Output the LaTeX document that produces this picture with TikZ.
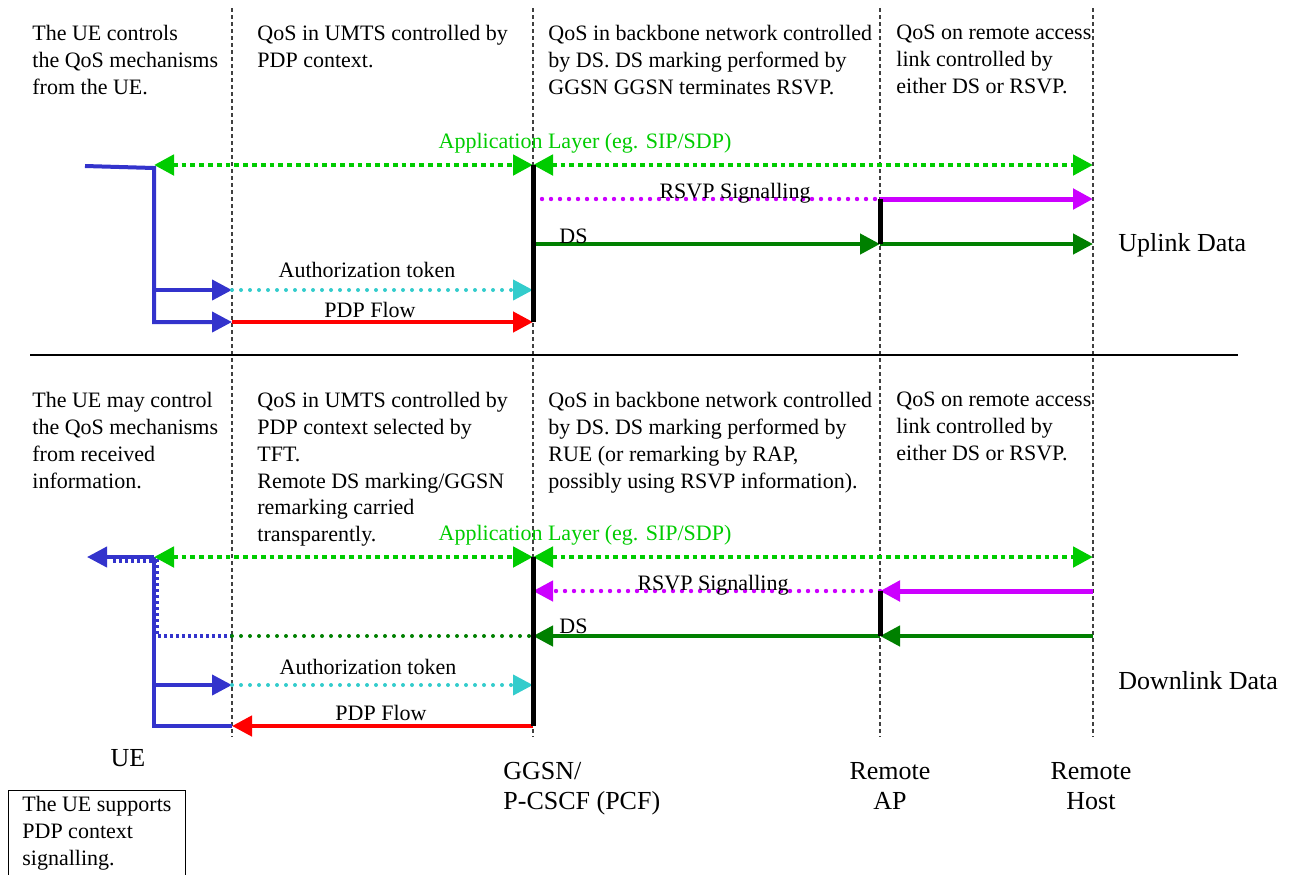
\documentclass[tikz,border=0pt]{standalone}
\usepackage{fontspec}
\setmainfont{Liberation Serif}
\usetikzlibrary{arrows.meta}

\definecolor{appgreen}{RGB}{0,204,0}
\definecolor{rsvpmag}{RGB}{204,0,255}
\definecolor{dsgreen}{RGB}{0,128,0}
\definecolor{authcyan}{RGB}{51,204,204}
\definecolor{ueblue}{RGB}{51,51,204}

\begin{document}
\begin{tikzpicture}[x=0.5pt, y=-0.5pt, >={Triangle[length=10pt,width=10pt]},
    every node/.style={font=\fontsize{11}{13.4}\selectfont, inner sep=0pt},
    note/.style={anchor=north west, align=left},
    big/.style={font=\fontsize{13}{15}\selectfont},
    life/.style={black!75, line width=0.6pt, dash pattern=on 2pt off 1.5pt},
    bar/.style={line width=2.5pt},
    appl/.style={<->, appgreen, line width=2.4pt, dash pattern=on 2.4pt off 2pt},
    rsvp/.style={->, rsvpmag, line width=2.5pt},
    rsvpdot/.style={rsvpmag, line width=2.2pt, line cap=round, dash pattern=on 0pt off 4.5pt},
    ds/.style={->, dsgreen, line width=2.2pt},
    dsdot/.style={dsgreen, line width=2pt, line cap=round, dash pattern=on 0pt off 4.5pt},
    auth/.style={->, authcyan, line width=2pt, line cap=round, dash pattern=on 0pt off 4.5pt},
    pdpflow/.style={->, red, line width=2.2pt},
    ueline/.style={ueblue, line width=2pt},
    uedot/.style={ueblue, line width=2pt, dash pattern=on 1.5pt off 1.5pt}]
    \useasboundingbox (0,0) rectangle (1290,874);

    % lifelines and rows
    \coordinate (ue) at (154,0);
    \coordinate (pdp) at (232,0);
    \coordinate (gg) at (533,0);
    \coordinate (ap) at (880,0);
    \coordinate (rh) at (1093,0);
    \coordinate (top) at (0,8);
    \coordinate (bot) at (0,737);
    \coordinate (uapp) at (0,165);
    \coordinate (ursvp) at (0,199);
    \coordinate (uds) at (0,244);
    \coordinate (uauth) at (0,290);
    \coordinate (upfl) at (0,322);
    \coordinate (dapp) at (0,557);
    \coordinate (drsvp) at (0,591);
    \coordinate (dds) at (0,636);
    \coordinate (dauth) at (0,685);
    \coordinate (dpfl) at (0,726);

    \foreach \l in {pdp,gg,ap,rh}
        \draw[life] (\l |- top) -- (\l |- bot);

    % uplink
    \coordinate (ustub) at (85,166);
    \coordinate (ubend) at (154,168);
    \draw[ueline,->] (ustub) -- (ubend) -- (ue |- upfl) -- (pdp |- upfl);
    \path (ue |- uauth) edge[ueline,->] (pdp |- uauth)
          (ue |- uapp) edge[appl] (gg |- uapp)
          (gg |- uapp) edge[appl] (rh |- uapp)
          (gg |- ursvp) edge[rsvpdot] (ap |- ursvp)
          (ap |- ursvp) edge[rsvp] (rh |- ursvp)
          (gg |- uds) edge[ds] (ap |- uds)
          (ap |- uds) edge[ds] (rh |- uds)
          (pdp |- uauth) edge[auth] (gg |- uauth)
          (pdp |- upfl) edge[pdpflow] (gg |- upfl);
    \draw[bar] (gg |- uapp) -- (gg |- upfl);
    \draw[bar] (ap |- ursvp) -- (ap |- uds);

    \node[note] (unote1) at (32,25) {The UE controls\\the QoS mechanisms\\from the UE.};
    \node[note] (unote2) at (257,25) {QoS in UMTS controlled by\\PDP context.};
    \node[note] (unote3) at (548,25) {QoS in backbone network controlled\\by DS. DS marking performed by\\GGSN GGSN terminates RSVP.};
    \node[note] (unote4) at (896,25) {QoS on remote access\\link controlled by\\either DS or RSVP.};
    \node[anchor=base, text=appgreen] (uapplbl) at (585,148) {Application Layer (eg. SIP/SDP)};
    \node[anchor=base] (ursvplbl) at (735,198) {RSVP Signalling};
    \node[anchor=base west] (udslbl) at (559,243) {DS};
    \node[anchor=base] (uauthlbl) at (367,277) {Authorization token};
    \node[anchor=base] (upfllbl) at (370,317) {PDP Flow};
    \node[big, anchor=base west] (uplink) at (1118,251) {Uplink Data};

    \coordinate (sepl) at (30,355);
    \coordinate (sepr) at (1238,355);
    \draw[line width=0.6pt] (sepl) -- (sepr);

    % downlink
    \coordinate (dstub) at (87,557);
    \coordinate (dotstub) at (113,561);
    \coordinate (dotbend) at (157,561);
    \draw[uedot] (dotstub) -- (dotbend) -- (dotbend |- dds) -- (pdp |- dds);
    \draw[ueline] (ue |- dapp) -- (ue |- dpfl) -- (pdp |- dpfl);
    \path (ue |- dapp) edge[ueline,->] (dstub)
          (ue |- dauth) edge[ueline,->] (pdp |- dauth)
          (ue |- dapp) edge[appl] (gg |- dapp)
          (gg |- dapp) edge[appl] (rh |- dapp)
          (ap |- drsvp) edge[rsvpdot,->] (gg |- drsvp)
          (rh |- drsvp) edge[rsvp] (ap |- drsvp)
          (pdp |- dds) edge[dsdot] (gg |- dds)
          (ap |- dds) edge[ds] (gg |- dds)
          (rh |- dds) edge[ds] (ap |- dds)
          (pdp |- dauth) edge[auth] (gg |- dauth)
          (gg |- dpfl) edge[pdpflow] (pdp |- dpfl);
    \draw[bar] (gg |- dapp) -- (gg |- dpfl);
    \draw[bar] (ap |- drsvp) -- (ap |- dds);

    \node[note] (dnote1) at (32,392) {The UE may control\\the QoS mechanisms\\from received\\information.};
    \node[note] (dnote2) at (257,392) {QoS in UMTS controlled by\\PDP context selected by\\TFT.\\Remote DS marking/GGSN\\remarking carried\\transparently.};
    \node[note] (dnote3) at (548,392) {QoS in backbone network controlled\\by DS. DS marking performed by\\RUE (or remarking by RAP,\\possibly using RSVP information).};
    \node[note] (dnote4) at (896,392) {QoS on remote access\\link controlled by\\either DS or RSVP.};
    \node[anchor=base, text=appgreen] (dapplbl) at (585,540) {Application Layer (eg. SIP/SDP)};
    \node[anchor=base] (drsvplbl) at (713,590) {RSVP Signalling};
    \node[anchor=base west] (ddslbl) at (559,633) {DS};
    \node[anchor=base] (dauthlbl) at (368,674) {Authorization token};
    \node[anchor=base] (dpfllbl) at (381,720) {PDP Flow};
    \node[big, anchor=base west] (downlink) at (1118,689) {Downlink Data};

    % entities
    \node[big, anchor=base] (uelbl) at (128,766) {UE};
    \node[big, note] (gglbl) at (503,762) {GGSN/\\P-CSCF (PCF)};
    \node[big, anchor=north, align=center] (aplbl) at (890,762) {Remote\\AP};
    \node[big, anchor=north, align=center] (rhlbl) at (1091,762) {Remote\\Host};
    \node[draw, line width=0.5pt, anchor=north west, minimum width=88.5pt, minimum height=60pt] (uebox) at (8,790) {};
    \node[note] (uetext) at (22,796) {The UE supports\\PDP context\\signalling.};
\end{tikzpicture}
\end{document}
